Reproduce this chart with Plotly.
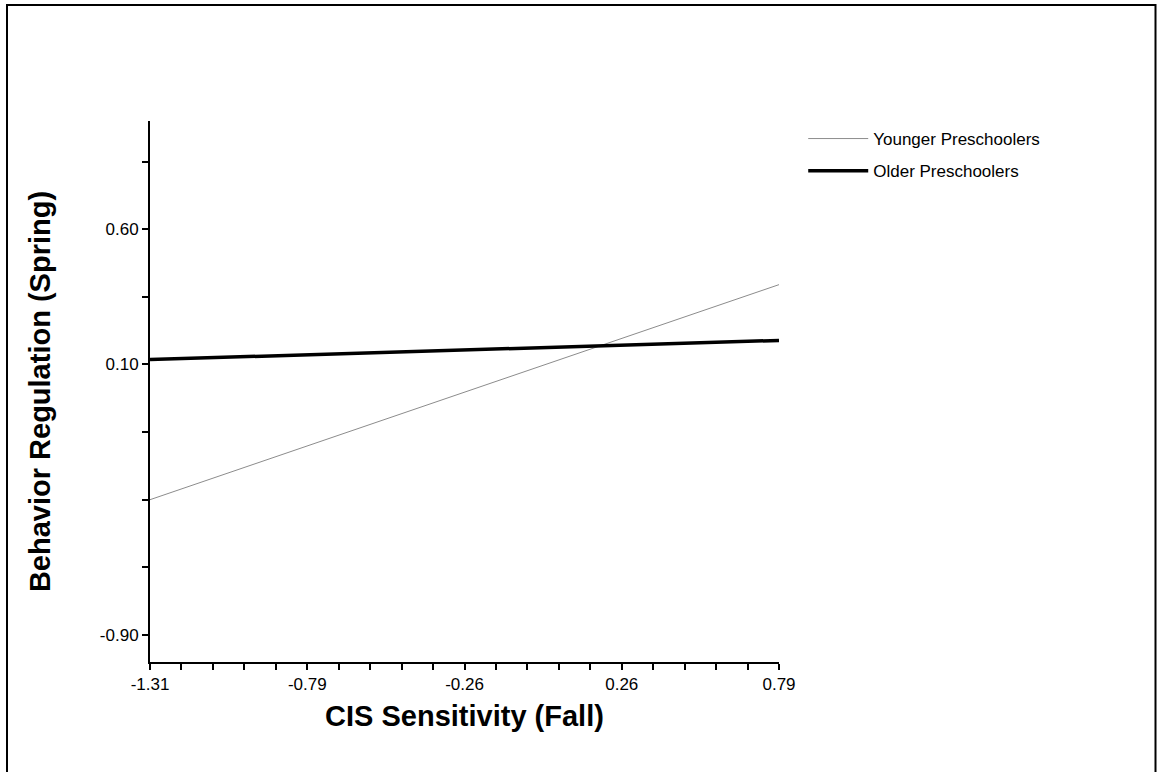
import numpy as np
import plotly.graph_objects as go

# Data
x_values = [-1.31, 0.79]
younger = [-0.40, 0.395]
older = [0.118, 0.189]
series_names = ["Younger Preschoolers", "Older Preschoolers"]

x_tick_labels = ["-1.31", "-0.79", "-0.26", "0.26", "0.79"]
y_tick_vals = [-0.90, -0.65, -0.40, -0.15, 0.10, 0.35, 0.60, 0.85]
y_tick_text = ["-0.90", "", "", "", "0.10", "", "0.60", ""]

x_title = "CIS Sensitivity (Fall)"
y_title = "Behavior Regulation (Spring)"

# x ticks: 4 major intervals, each with 5 minor steps
x_all = np.linspace(-1.31, 0.79, (len(x_tick_labels) - 1) * 5 + 1)
x_text = []
for i, v in enumerate(x_all):
    x_text.append(x_tick_labels[i // 5] if i % 5 == 0 else "")

FONT = "Liberation Sans, Arial, sans-serif"

fig = go.Figure()
fig.add_trace(go.Scatter(x=x_values, y=younger, mode="lines", name=series_names[0],
                         line=dict(color="#8c8c8c", width=1), legendgroup="a"))
fig.add_trace(go.Scatter(x=x_values, y=older, mode="lines", name=series_names[1],
                         line=dict(color="#000000", width=3.5), legendgroup="b"))

fig.update_layout(
    width=1157, height=772,
    margin=dict(l=150, r=378, t=121, b=110, autoexpand=False),
    paper_bgcolor="white", plot_bgcolor="white",
    font=dict(family=FONT, color="black", size=17),
    showlegend=True,
    legend=dict(x=1.0385, y=1.0, xanchor="left", yanchor="top",
                font=dict(size=17, family=FONT, color="black"),
                itemwidth=60, tracegroupgap=7, bgcolor="rgba(0,0,0,0)"),
    xaxis=dict(range=[-1.31, 0.79], tickmode="array", tickvals=list(x_all), ticktext=x_text,
               showgrid=False, zeroline=False, showline=True, linecolor="black", linewidth=2,
               ticks="outside", ticklen=6, tickwidth=2, tickcolor="black",
               tickfont=dict(size=17, family=FONT, color="black"),
               title=dict(text="<b>" + x_title + "</b>", font=dict(size=29, family=FONT, color="black"),
                          standoff=12)),
    yaxis=dict(range=[-1.0, 1.0], tickmode="array", tickvals=y_tick_vals, ticktext=y_tick_text,
               showgrid=False, zeroline=False, showline=True, linecolor="black", linewidth=2,
               ticks="outside", ticklen=6, tickwidth=2, tickcolor="black",
               tickfont=dict(size=17, family=FONT, color="black"),
               title=dict(text="<b>" + y_title + "</b>", font=dict(size=29, family=FONT, color="black"),
                          standoff=41)),
)

# Outer frame around the figure
fig.add_shape(type="rect", xref="paper", yref="paper",
              x0=(7 - 150) / 629, x1=(1155.5 - 150) / 629,
              y0=(662 - 790) / 541, y1=(662 - 5) / 541,
              line=dict(color="black", width=2), fillcolor="rgba(0,0,0,0)", layer="below")

fig.write_html("out.html")
